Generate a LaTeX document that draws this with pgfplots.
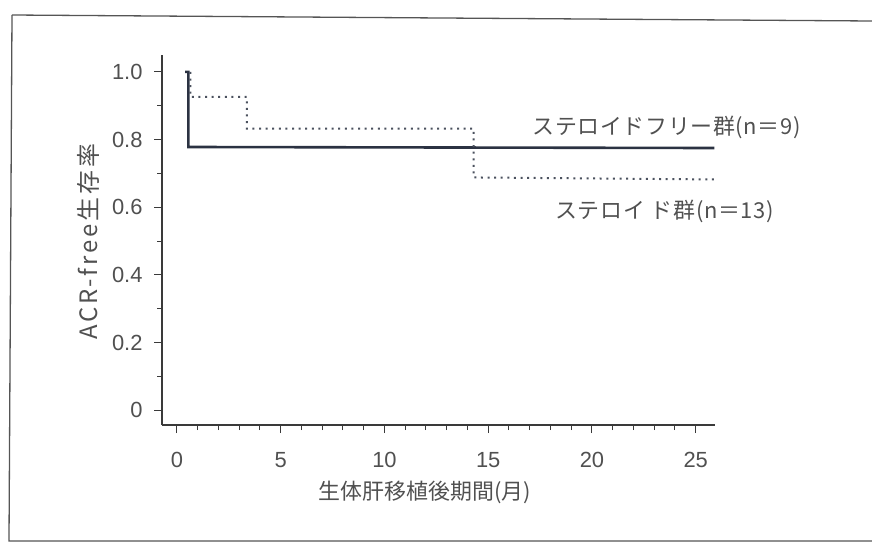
\documentclass[border=0pt]{standalone}
\usepackage{pgfplots}
\pgfplotsset{compat=1.18}
\usepackage{fontspec}
\setmainfont{Liberation Sans}
\newfontfamily\jp{Noto Sans CJK JP}
\newfontfamily\jpsp[LetterSpace=12]{Noto Sans CJK JP}
\newfontfamily\jpsm[LetterSpace=3]{Noto Sans CJK JP}
\definecolor{txt}{HTML}{505050}
\definecolor{axc}{HTML}{3A3A3A}
\definecolor{crv}{HTML}{2B3242}
\definecolor{frm}{HTML}{555555}
\begin{document}
\begin{tikzpicture}
\path[use as bounding box] (0,0) rectangle (872bp,-544bp);
\draw[frm, line width=1.3bp] (12bp,-15bp) -- (872bp,-21bp);
\draw[frm, line width=1.3bp] (12bp,-15bp) -- (9bp,-541bp) -- (872bp,-541bp);
\begin{axis}[
  at={(162bp,-425bp)}, anchor=south west,
  scale only axis, width=553bp, height=370bp,
  xmin=-0.72, xmax=25.93, ymin=-0.044, ymax=1.05,
  axis x line*=bottom, axis y line*=left,
  axis line style={axc, line width=1.2bp},
  tick align=outside,
  tick style={axc, line width=1bp},
  major tick length=8bp, minor tick length=5bp,
  xtick={0,5,10,15,20,25}, minor x tick num=4,
  ytick={0,0.2,0.4,0.6,0.8,1.0}, minor y tick num=1,
  yticklabels={0,0.2,0.4,0.6,0.8,1.0},
  /pgf/number format/assume math mode=true,
  ticklabel style={font=\fontsize{22}{24}\selectfont, text=txt},
  xticklabel style={yshift=-16bp},
  yticklabel style={xshift=-8bp},
  clip=false,
]
\addplot[crv, line width=2.6bp, line join=miter] coordinates {
  (0.4,1.0) (0.55,1.0) (0.55,0.778) (25.9,0.775)
};
\addplot[crv!85, line width=2bp, dash pattern=on 2bp off 4.6bp] coordinates {
  (0.65,1.0) (0.65,0.926) (3.37,0.926) (3.37,0.832) (14.3,0.832) (14.3,0.688) (25.9,0.682)
};
\node[txt, font=\jpsm\fontsize{22}{24}\selectfont] at (axis cs:23.6,0.836) {ステロイドフリー群(n＝9)};
\node[txt, font=\jpsm\fontsize{22}{24}\selectfont] at (axis cs:23.5,0.588) {ステロイ\hspace{6bp}ド群(n＝13)};
\end{axis}
\node[txt, font=\jp\fontsize{22}{26}\selectfont] at (425bp,-492bp) {生体肝移植後期間(月)};
\node[txt, rotate=90, font=\jpsp\fontsize{24}{26}\selectfont] at (88bp,-242bp) {ACR-free生存率};
\end{tikzpicture}
\end{document}
